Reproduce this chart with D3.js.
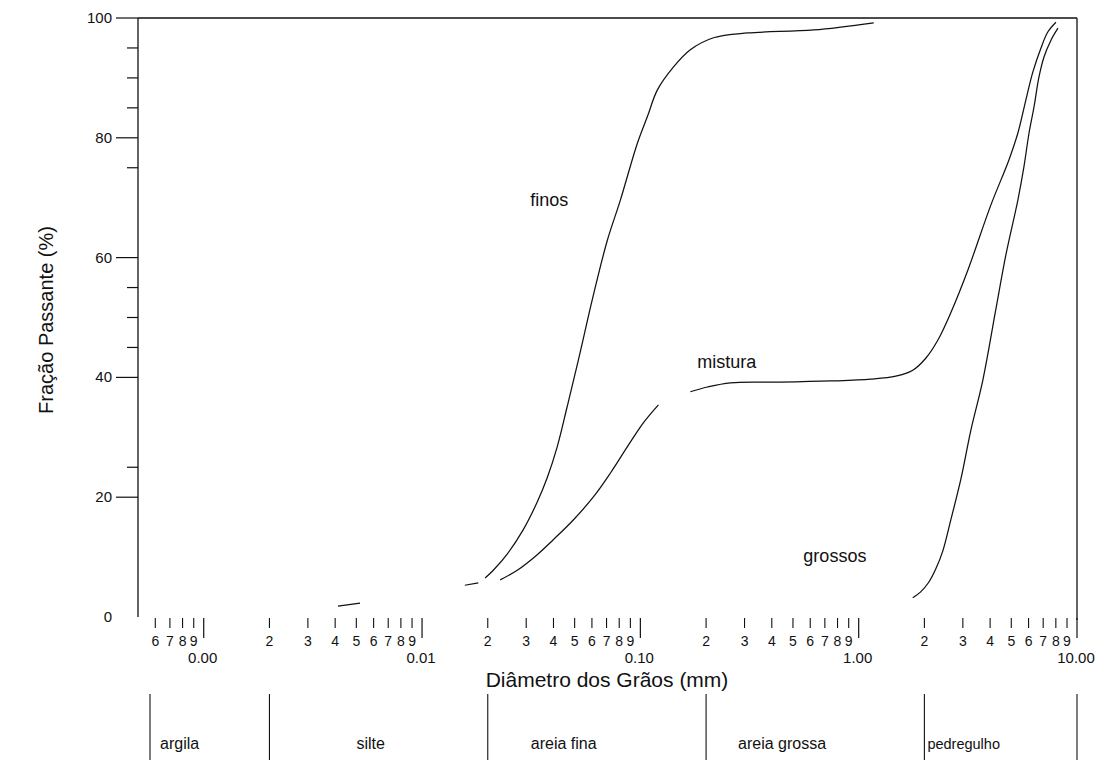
<!DOCTYPE html>
<html>
<head>
<meta charset="utf-8">
<script src="https://cdn.jsdelivr.net/npm/d3@7"></script>
<style>
  body { margin: 0; background: #fff; }
  svg { display: block; }
  text { font-family: "Liberation Sans", Arial, sans-serif; fill: #111; }
</style>
</head>
<body>
<svg id="chart" width="1105" height="760"></svg>
<script>
// Grain-size distribution curves: [diameter (mm), percent passing].
// A null entry marks a break in the traced line.
const finos = [
  [0.00412, 1.8], [0.0052, 2.3], null,
  [0.0157, 5.3], [0.0181, 5.7], null,
  [0.01945, 6.5], [0.0212, 7.8], [0.02455, 10.5], [0.0290, 14.5], [0.0337, 19.2],
  [0.0374, 23.2], [0.0416, 28.4], [0.0462, 35.1], [0.0520, 42.9], [0.0608, 53.6],
  [0.0706, 62.9], [0.0810, 69.6], [0.0969, 79.1], [0.1076, 83.5], [0.1197, 88.0],
  [0.1416, 91.8], [0.1694, 94.7], [0.2163, 96.7], [0.3097, 97.5], [0.622, 98.0],
  [1.172, 99.2]
];
const mistura = [
  [0.0228, 6.2], [0.0273, 7.8], [0.0337, 10.4], [0.0399, 12.9], [0.0493, 16.2],
  [0.0608, 20.0], [0.0728, 24.0], [0.0871, 28.4], [0.1032, 32.4], [0.1210, 35.4], null,
  [0.1694, 37.6], [0.2028, 38.4], [0.2588, 39.1], [0.4385, 39.2], [0.7447, 39.4],
  [1.135, 39.7], [1.479, 40.2], [1.769, 41.2], [2.029, 43.2], [2.303, 46.2],
  [2.642, 50.8], [3.162, 57.9], [4.034, 68.8], [4.877, 76.3], [5.36, 80.8],
  [5.83, 86.3], [6.28, 91.0], [6.84, 95.0], [7.36, 97.7], [8.01, 99.3]
];
const grossos = [
  [1.769, 3.2], [1.923, 4.2], [2.094, 5.8], [2.254, 8.0], [2.427, 11.0],
  [2.642, 16.2], [2.938, 23.0], [3.266, 31.2], [3.707, 39.6], [4.246, 51.3],
  [4.721, 60.4], [5.36, 69.6], [5.71, 75.1], [6.03, 80.8], [6.35, 85.1],
  [6.70, 90.2], [7.06, 93.5], [7.60, 96.3], [8.18, 98.3]
];
const seriesNames = ["finos", "mistura", "grossos"];

// Axis ticks
const yTicks = [0, 20, 40, 60, 80, 100];
const yMinorTicks = [95, 90, 85, 75, 55, 50, 45, 25];
const xMajorTicks = [0.001, 0.01, 0.1, 1, 10];
const xMinorDigits = [2, 3, 4, 5, 6, 7, 8, 9];

// Soil fraction classes and their upper diameter limits (mm)
const bandNames = ["argila", "silte", "areia fina", "areia grossa", "pedregulho"];
const bandLimits = [0.002, 0.02, 0.2, 2, 10];

const svg = d3.select("#chart");
const x = d3.scaleLog().domain([0.0005, 10]).range([138, 1077]);
const y = d3.scaleLinear().domain([0, 100]).range([617, 18]);
const ink = "#111";

// Frame: left axis, top edge, right edge
const g = svg.append("g").attr("stroke", ink).attr("stroke-width", 1.3).attr("fill", "none");
g.append("line").attr("x1", x.range()[0]).attr("x2", x.range()[0]).attr("y1", y(100)).attr("y2", y(0));
g.append("line").attr("x1", x.range()[0]).attr("x2", x.range()[1]).attr("y1", y(100)).attr("y2", y(100));
g.append("line").attr("x1", x.range()[1]).attr("x2", x.range()[1]).attr("y1", y(100)).attr("y2", y(0) + 3);

// Y axis
const yAxis = svg.append("g");
yAxis.selectAll(".ymaj").data(yTicks.filter(v => v > 0)).join("line")
  .attr("x1", x.range()[0] - 22).attr("x2", x.range()[0])
  .attr("y1", d => y(d)).attr("y2", d => y(d))
  .attr("stroke", ink).attr("stroke-width", 1.2);
yAxis.selectAll(".ymin").data(yMinorTicks).join("line")
  .attr("x1", x.range()[0] - 11).attr("x2", x.range()[0])
  .attr("y1", d => y(d)).attr("y2", d => y(d))
  .attr("stroke", ink).attr("stroke-width", 1.2);
yAxis.selectAll("text").data(yTicks).join("text")
  .attr("x", x.range()[0] - 26).attr("y", d => y(d) + 5)
  .attr("text-anchor", "end").attr("font-size", 15)
  .text(d => d);

svg.append("text")
  .attr("transform", `translate(53, 320) rotate(-90)`)
  .attr("text-anchor", "middle").attr("font-size", 20)
  .text("Fração Passante (%)");

// X axis (log): minor ticks with single digits, decades with 2-decimal labels
const xMinor = [];
for (let e = -4; e <= 0; e++) {
  for (const dgt of xMinorDigits) {
    const v = dgt * Math.pow(10, e);
    if (v > 0.00055 && v < 10) xMinor.push({ v, dgt });
  }
}
const xAxis = svg.append("g");
const tickTop = y(0) + 1;
xAxis.selectAll(".xmin").data(xMinor).join("line")
  .attr("x1", d => x(d.v)).attr("x2", d => x(d.v))
  .attr("y1", tickTop).attr("y2", tickTop + 10)
  .attr("stroke", ink).attr("stroke-width", 1.1);
xAxis.selectAll(".xminl").data(xMinor).join("text")
  .attr("x", d => x(d.v)).attr("y", tickTop + 28)
  .attr("text-anchor", "middle").attr("font-size", 14)
  .text(d => d.dgt);
xAxis.selectAll(".xmaj").data(xMajorTicks).join("line")
  .attr("x1", d => x(d)).attr("x2", d => x(d))
  .attr("y1", tickTop).attr("y2", tickTop + 20)
  .attr("stroke", ink).attr("stroke-width", 1.2);
xAxis.selectAll(".xmajl").data(xMajorTicks).join("text")
  .attr("x", d => x(d) - 1).attr("y", tickTop + 45)
  .attr("text-anchor", "middle").attr("font-size", 15)
  .text(d => d3.format(".2f")(d));

svg.append("text")
  .attr("x", 607).attr("y", 687)
  .attr("text-anchor", "middle").attr("font-size", 21)
  .text("Diâmetro dos Grãos (mm)");

// Curves
const line = d3.line()
  .defined(d => d !== null)
  .x(d => x(d[0])).y(d => y(d[1]))
  .curve(d3.curveCatmullRom.alpha(0.5));
svg.append("g").selectAll("path").data([finos, mistura, grossos]).join("path")
  .attr("d", line)
  .attr("fill", "none").attr("stroke", ink).attr("stroke-width", 1.25);

// Curve labels
const labelAnchors = [[0.0313, 68.6], [0.1824, 41.6], [0.558, 9.2]];
svg.append("g").selectAll("text").data(seriesNames).join("text")
  .attr("x", (d, i) => x(labelAnchors[i][0]))
  .attr("y", (d, i) => y(labelAnchors[i][1]))
  .attr("font-size", 18)
  .text(d => d);

// Soil classification band below the axis
const bandTop = 694, bandBottom = 760;
const bandEdges = [x.range()[0] + 12, ...bandLimits.map(v => x(v))];
svg.append("g").selectAll("line").data(bandEdges).join("line")
  .attr("x1", d => d).attr("x2", d => d)
  .attr("y1", bandTop).attr("y2", bandBottom)
  .attr("stroke", ink).attr("stroke-width", 1.1);
const bandLabelOffset = [10, 87, 43, 32, 3];
svg.append("g").selectAll("text").data(bandNames).join("text")
  .attr("x", (d, i) => bandEdges[i] + bandLabelOffset[i])
  .attr("y", 749)
  .attr("font-size", (d, i) => i === 4 ? 14.5 : 16)
  .text(d => d);
</script>
</body>
</html>
